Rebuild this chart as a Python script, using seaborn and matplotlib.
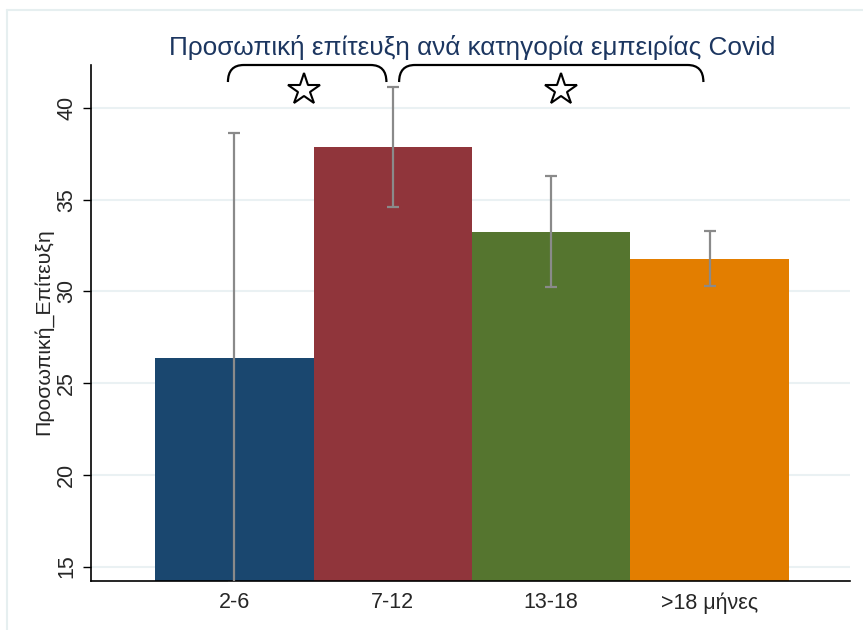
import numpy as np
import pandas as pd
import seaborn as sns
import matplotlib.pyplot as plt
from matplotlib.path import Path
from matplotlib.patches import PathPatch
from matplotlib.lines import Line2D
import matplotlib.transforms as mtransforms

# Mean personal achievement by Covid experience group, with confidence limits
categories = ["2-6", "7-12", "13-18", ">18 μήνες"]
means = [26.37, 37.86, 33.24, 31.78]
ci_low = [14.10, 34.61, 30.22, 30.29]
ci_high = [38.64, 41.13, 36.28, 33.28]
bar_colors = ["#1a476f", "#90353b", "#55752f", "#e37e00"]

y_ticks = [15, 20, 25, 30, 35, 40]
title_text = "Προσωπική επίτευξη ανά κατηγορία εμπειρίας Covid"
y_label = "Προσωπική_Επίτευξη"

# significance brackets (category-position spans) and their stars
bracket_spans = [(-0.04, 0.96), (1.04, 2.96)]
star_positions = [0.44, 2.06]

sns.set_style("white")
plt.rcParams["font.family"] = ["Liberation Sans", "DejaVu Sans"]

fig = plt.figure(figsize=(8.63, 6.30), dpi=100)
ax = fig.add_axes([91 / 863, 49 / 630, (850 - 91) / 863, (581 - 65) / 630])

df = pd.DataFrame({"group": categories, "value": means})
sns.barplot(data=df, x="group", y="value", hue="group", palette=bar_colors,
            width=1.0, errorbar=None, legend=False, linewidth=0, saturation=1,
            ax=ax, zorder=2)

pos = np.arange(len(categories))
m = np.array(means)
yerr = np.vstack([m - np.array(ci_low), np.array(ci_high) - m])
ax.errorbar(pos, m, yerr=yerr, fmt="none", ecolor="#8a8a8a", elinewidth=1.6,
            capsize=4.5, capthick=1.6, zorder=3)

ax.set_xlim(-0.904, 3.885)
ax.set_ylim(14.21, 42.34)
ax.set_yticks(y_ticks)
ax.set_yticklabels([str(t) for t in y_ticks], rotation=90, va="center")
ax.yaxis.grid(True, color="#eaf1f3", linewidth=1.5)
ax.xaxis.grid(False)
ax.set_axisbelow(True)

for s in ["top", "right"]:
    ax.spines[s].set_visible(False)
for s in ["left", "bottom"]:
    ax.spines[s].set_color("black")
    ax.spines[s].set_linewidth(1.2)

ax.tick_params(axis="y", length=6, width=1.0, color="black", labelsize=15.5, pad=4, left=True)
ax.tick_params(axis="x", length=0, labelsize=15.5, pad=8)
ax.set_xlabel("")
ax.set_ylabel(y_label, fontsize=15.3)
ax.yaxis.set_label_coords(-0.05, 0.483)

# curly brackets above the bars, x in data units, y in axes units
trans = mtransforms.blended_transform_factory(ax.transData, ax.transAxes)
rx, ry = 0.10, 0.033
for x0, x1 in bracket_spans:
    verts = [(x0, 1 - ry), (x0, 1.0), (x0 + rx, 1.0),
             (x1 - rx, 1.0),
             (x1, 1.0), (x1, 1 - ry)]
    codes = [Path.MOVETO, Path.CURVE3, Path.CURVE3,
             Path.LINETO,
             Path.CURVE3, Path.CURVE3]
    ax.add_patch(PathPatch(Path(verts, codes), facecolor="none", edgecolor="black",
                           linewidth=1.6, transform=trans, clip_on=False, zorder=4))

ax.plot(star_positions, [0.952] * len(star_positions), linestyle="none", marker="*",
        markersize=24, markerfacecolor="white", markeredgecolor="black",
        markeredgewidth=1.5, transform=trans, clip_on=False, zorder=5)

fig.text(0.547, 0.925, title_text, ha="center", va="center", fontsize=18.8, color="#1c3660")

# light outer frame
frame_color = "#e6eff0"
fig.add_artist(Line2D([7 / 863, 7 / 863], [0, 1 - 10 / 630], color=frame_color, linewidth=1.5))
fig.add_artist(Line2D([7 / 863, 1], [1 - 10 / 630, 1 - 10 / 630], color=frame_color, linewidth=1.5))

fig.savefig("out.png", dpi=100)
